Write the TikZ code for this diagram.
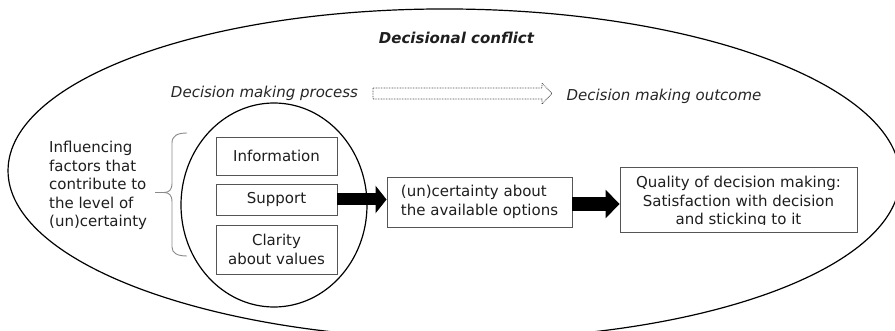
\documentclass[tikz,border=0pt]{standalone}
\usepackage{fontspec}
\setmainfont{DejaVu Sans}[BoldFont={DejaVu Sans Bold},ItalicFont={DejaVu Sans Oblique},BoldItalicFont={DejaVu Sans Bold Oblique}]
\usetikzlibrary{arrows.meta,calc}
\definecolor{tcol}{HTML}{1E1E1E}
\definecolor{bcol}{HTML}{555555}
\definecolor{gcol}{HTML}{8A8A8A}
\tikzset{
  txt/.style={font=\fontsize{15}{18.5}\selectfont, text=tcol, inner sep=0pt},
  itxt/.style={txt, font=\fontsize{15}{18.5}\selectfont\itshape, text=black!85},
  fbox/.style={draw=bcol, line width=0.9pt, txt, align=center},
  bigarrow/.style={draw=black, line width=#1},
  outline/.style={draw=black, line width=1.2pt},
  bracecol/.style={draw=gcol, line width=0.9pt},
  dotarrow/.style={draw=black!70, line width=0.8pt, dash pattern=on 0.8pt off 0.8pt}
}
\begin{document}
\begin{tikzpicture}[x=1pt,y=-1pt]
\useasboundingbox (0,0) rectangle (895,331);
\clip (0,0) rectangle (895,331);
% outer ellipse
\draw[outline, rotate around={-0.5:(454,174)}] (454,174) ellipse [x radius=446, y radius=165];
\node[txt, font=\fontsize{15}{18.5}\selectfont\bfseries\itshape] (title) at (456.5,38) {Decisional conflict};
\node[itxt] (proc) at (264.5,93) {Decision making process};
\node[itxt] (outc) at (664,96.5) {Decision making outcome};
% dotted hollow arrow
\coordinate (da) at (373,93.5);
\coordinate (db) at (552,93.5);
\draw[dotarrow] ($(da)+(0,-5.5)$) -- ($(db)+(-10,-5.5)$) -- ($(db)+(-10,-10.5)$) -- (db)
  -- ($(db)+(-10,10.5)$) -- ($(db)+(-10,5.5)$) -- ($(da)+(0,5.5)$) -- cycle;
% inner ellipse
\draw[outline] (274,205) ellipse [x radius=93, y radius=102];
% left text
\node[txt, anchor=west, align=left] (infl) at (49,185.5) {Influencing\\factors that\\contribute to\\the level of\\(un)certainty};
% brace
\draw[bracecol] (187,133) .. controls (177,133) and (172,136) .. (172,143) -- (172,183)
  .. controls (172,190) and (169,192.5) .. (164,192.5) -- (155,192.5);
\draw[bracecol] (164,192.5) .. controls (169,192.5) and (172,195) .. (172,202) -- (172,247)
  .. controls (172,253) and (177,256) .. (187,256);
% boxes
\node[fbox, minimum width=121, minimum height=38] (info) at (276.5,156) {Information};
\node[fbox, minimum width=121, minimum height=31] (sup) at (276.5,199.5) {Support};
\node[fbox, minimum width=121, minimum height=49] (clar) at (276.5,249.5) {Clarity\\about values};
\node[fbox, align=left, minimum width=185, minimum height=50] (mid) at (479.5,202) {(un)certainty about\\the available options};
\node[fbox, minimum width=237, minimum height=65] (qual) at (738.5,199.5) {};
\begin{scope}
\clip (qual.north west) rectangle ($(qual.south east)+(0,-7.5)$);
\node[txt, align=center] (qualtxt) at (738.5,202) {Quality of decision making:\\Satisfaction with decision\\and sticking to it};
\end{scope}
% thick arrows
\draw[bigarrow=12pt, -{Triangle[length=11pt,width=27pt]}] (sup.east) -- (sup.east -| mid.west);
\draw[bigarrow=14pt, -{Triangle[length=14pt,width=28pt]}] ($(mid.east)+(0,2)$) -- ($(mid.east -| qual.west)+(0,2)$);
\end{tikzpicture}
\end{document}
